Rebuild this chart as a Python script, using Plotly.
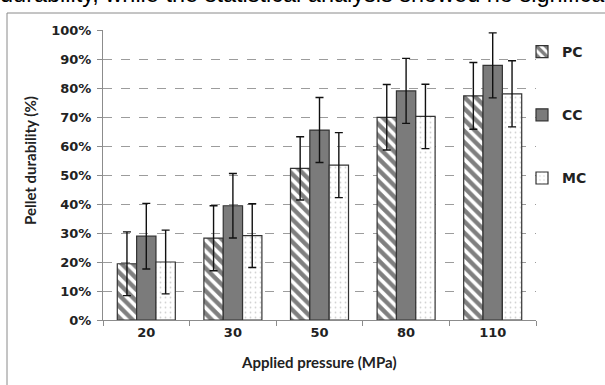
import plotly.graph_objects as go

categories = ["20", "30", "50", "80", "110"]
pc = [19.4, 28.2, 52.3, 69.9, 77.3]
cc = [28.9, 39.4, 65.5, 79.0, 87.8]
mc = [20.0, 29.1, 53.4, 70.2, 78.0]
pc_err = [11.0, 11.2, 10.9, 11.3, 11.5]
cc_err = [11.3, 11.1, 11.2, 11.2, 11.2]
mc_err = [11.0, 11.0, 11.2, 11.1, 11.4]
series_names = ["PC", "CC", "MC"]

W, H = 605, 385
L, R, T, B = 103, 69, 30, 65
PW, PH = W - L - R, H - T - B


def px_x(x):
    return (x - L) / PW


def px_y(y):
    return (H - B - y) / PH


fig = go.Figure()
err_style = dict(type="data", color="#111111", thickness=1.4, width=4)
line_style = dict(color="#333333", width=1.2)

fig.add_trace(go.Bar(
    x=categories, y=pc, name=series_names[0], legendgroup="a",
    error_y=dict(array=pc_err, **err_style),
    marker=dict(color="white", line=line_style,
                pattern=dict(shape="\\", fgcolor="black", bgcolor="white",
                             size=8, solidity=0.55)),
))
fig.add_trace(go.Bar(
    x=categories, y=cc, name=series_names[1], legendgroup="b",
    error_y=dict(array=cc_err, **err_style),
    marker=dict(color="#7b7b7b", line=line_style),
))
fig.add_trace(go.Bar(
    x=categories, y=mc, name=series_names[2], legendgroup="c",
    error_y=dict(array=mc_err, **err_style),
    marker=dict(color="white", line=line_style,
                pattern=dict(shape=".", fgcolor="#a8a8a8", bgcolor="white",
                             size=5, solidity=0.1)),
))

tick_font = dict(family="DejaVu Sans", size=13, color="#222222", weight="bold")
title_font = dict(family="Lato", size=15, color="#222222", weight="bold")

fig.update_layout(
    width=W, height=H,
    margin=dict(l=L, r=R, t=T, b=B),
    paper_bgcolor="white", plot_bgcolor="white",
    barmode="group", bargap=0.33, bargroupgap=0,
    showlegend=True,
    legend=dict(x=px_x(522), y=px_y(36), xanchor="left", yanchor="top",
                font=dict(family="DejaVu Sans", size=14, color="#222222", weight="bold"),
                tracegroupgap=42, traceorder="grouped",
                bgcolor="rgba(0,0,0,0)", borderwidth=0),
    xaxis=dict(type="category", showline=True, linecolor="#8c8c8c", linewidth=1,
               ticks="outside", tickson="boundaries", ticklen=5, tickcolor="#8c8c8c",
               tickfont=tick_font, showgrid=False, fixedrange=True),
    yaxis=dict(range=[0, 100], dtick=10, ticksuffix="%", showline=True,
               linecolor="#8c8c8c", linewidth=1, ticks="outside", ticklen=5,
               tickcolor="#8c8c8c", tickfont=tick_font, ticklabelstandoff=3,
               showgrid=True, gridcolor="#9c9c9c", griddash="dash", gridwidth=1,
               zeroline=False, fixedrange=True),
    shapes=[dict(type="rect", xref="paper", yref="paper",
                 x0=px_x(7), x1=px_x(615), y0=px_y(13), y1=px_y(395),
                 line=dict(color="#8a8a8a", width=1), fillcolor="rgba(0,0,0,0)",
                 layer="below")],
    annotations=[
        dict(text="durability, while the statistical analysis showed no significant",
             xref="paper", yref="paper", x=px_x(-2), y=px_y(9),
             xanchor="left", yanchor="bottom", showarrow=False,
             font=dict(family="Liberation Sans", size=23.5, color="black")),
        dict(text="Applied pressure (MPa)", xref="paper", yref="paper",
             x=px_x(319), y=px_y(362), xanchor="center", yanchor="middle",
             showarrow=False, font=title_font),
        dict(text="Pellet durability (%)", xref="paper", yref="paper",
             x=px_x(30), y=px_y(161), xanchor="center", yanchor="middle",
             textangle=-90, showarrow=False, font=title_font),
    ],
)

fig.write_html("out.html")
